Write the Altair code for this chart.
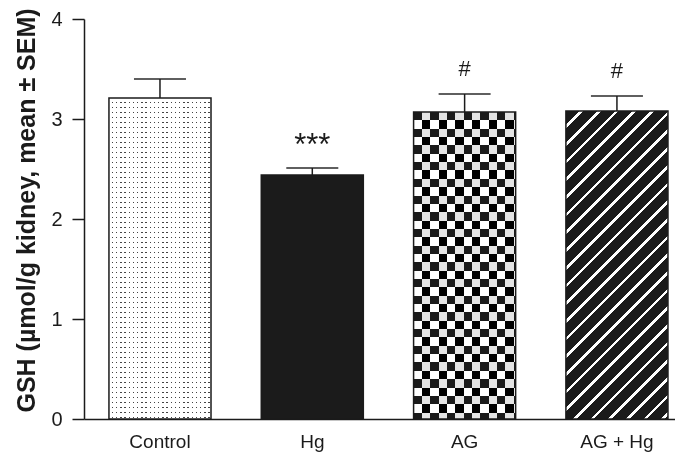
import altair as alt
import pandas as pd

# ---- data ----
groups = ["Control", "Hg", "AG", "AG + Hg"]
means = [3.21, 2.44, 3.07, 3.08]
sems = [0.19, 0.07, 0.18, 0.15]
signif = ["", "***", "#", "#"]

df = pd.DataFrame({"group": groups, "mean": means, "sem": sems, "mark": signif})
df["upper"] = df["mean"] + df["sem"]

# ---- layout ----
W, H = 591, 400
P_IN, P_OUT, ALIGN = 0.33, 0.105, 0.78
k = H / 4.0
step = W / (len(groups) - P_IN + 2 * P_OUT)
bw = step * (1 - P_IN)
INK = "#1b1b1b"
FONT = "Liberation Sans"
CLEAR = "rgba(255,255,255,0)"


def stripe_stops(length_px, period_px, on_px, off_color, on_color):
    stops = []
    pos = 0.0
    while pos < length_px - 1e-6:
        a = pos / length_px
        m = min((pos + period_px - on_px) / length_px, 1.0)
        b = min((pos + period_px) / length_px, 1.0)
        stops += [
            {"offset": round(a, 5), "color": off_color},
            {"offset": round(m, 5), "color": off_color},
            {"offset": round(m, 5), "color": on_color},
            {"offset": round(b, 5), "color": on_color},
        ]
        pos += period_px
    return stops


def lin(stops, x2, y2):
    return {"gradient": "linear", "x1": 0, "y1": 0, "x2": x2, "y2": y2, "stops": stops}


h_ctrl = means[0] * k
h_ag = means[2] * k
h_aghg = means[3] * k

# Control: dotted texture (rows of dots masked by white columns)
ctrl_rows = lin(stripe_stops(h_ctrl, 5.0, 1.4, "white", "#444444"), 0, 1)
ctrl_cols = lin(stripe_stops(bw, 4.2, 1.4, "white", CLEAR), 1, 0)
# AG: checkerboard (horizontal bands xor vertical bands)
ag_rows = lin(stripe_stops(h_ag, 16.7, 8.35, INK, "white"), 0, 1)
ag_cols = lin(stripe_stops(bw, 16.7, 8.35, CLEAR, "white"), 1, 0)
# AG + Hg: diagonal white stripes on black
c = (bw + h_aghg) / (bw ** 2 + h_aghg ** 2)
diag_len = (bw + h_aghg) / 2 ** 0.5
aghg_diag = lin(stripe_stops(diag_len, 12.5, 2.6, INK, "white"), c * bw, c * h_aghg)

x_enc = alt.X(
    "group:N",
    scale=alt.Scale(domain=groups, paddingInner=P_IN, paddingOuter=P_OUT, align=ALIGN),
    axis=alt.Axis(
        title=None, ticks=False, tickSize=0, labelAngle=0, labelFontSize=19,
        labelFont=FONT, labelColor=INK, labelPadding=13, domainColor=INK,
        domainWidth=1.5,
    ),
)
y_axis = alt.Axis(
    title="GSH (µmol/g kidney, mean ± SEM)", values=[0, 1, 2, 3, 4], format="d",
    grid=False, tickSize=12, tickWidth=1.5, tickColor=INK, domainColor=INK,
    domainWidth=1.5, labelFontSize=20, labelFont=FONT, labelColor=INK,
    labelPadding=10, titleFont=FONT, titleFontSize=25, titleFontWeight="bold",
    titleColor=INK, titleAngle=270, titleX=-50, titleY=191, titleAlign="center",
    titleBaseline="alphabetic",
)
y_scale = alt.Scale(domain=[0, 4], nice=False, zero=True)
y_mean = alt.Y("mean:Q", scale=y_scale, axis=y_axis)
y_upper = alt.Y("upper:Q", scale=y_scale, axis=y_axis)

base = alt.Chart(df)


def only(name):
    return base.transform_filter(alt.datum.group == name)


ctrl_a = only("Control").mark_bar(fill=ctrl_rows).encode(x=x_enc, y=y_mean)
ctrl_b = only("Control").mark_bar(fill=ctrl_cols).encode(x=x_enc, y=y_mean)
hg = only("Hg").mark_bar(fill=INK).encode(x=x_enc, y=y_mean)
ag_a = only("AG").mark_bar(fill=ag_rows).encode(x=x_enc, y=y_mean)
ag_b = only("AG").mark_bar(fill=ag_cols, blend="difference").encode(x=x_enc, y=y_mean)
aghg = only("AG + Hg").mark_bar(fill=aghg_diag).encode(x=x_enc, y=y_mean)
outline = base.mark_bar(fillOpacity=0, stroke=INK, strokeWidth=1.5).encode(x=x_enc, y=y_mean)

stems = base.mark_rule(color=INK, strokeWidth=1.5).encode(
    x=x_enc, y=y_mean, y2=alt.Y2("upper")
)
caps = base.mark_tick(color=INK, thickness=2, size=52).encode(x=x_enc, y=y_upper)

stars = base.transform_filter(alt.datum.mark == "***").mark_text(
    font=FONT, fontSize=31, color=INK, baseline="alphabetic", dy=-13
).encode(x=x_enc, y=y_upper, text="mark:N")
hashes = base.transform_filter(alt.datum.mark == "#").mark_text(
    font=FONT, fontSize=22, color=INK, baseline="alphabetic", dy=-18
).encode(x=x_enc, y=y_upper, text="mark:N")

chart = alt.layer(
    ctrl_a, ctrl_b, hg, ag_a, ag_b, aghg, outline, stems, caps, stars, hashes
).properties(
    width=W,
    height=H,
    autosize=alt.AutoSizeParams(type="none"),
    padding={"left": 76, "top": 11, "right": 0, "bottom": 33},
).configure_view(strokeOpacity=0)

chart.save("out.html", embed_options={"renderer": "svg", "actions": False})
